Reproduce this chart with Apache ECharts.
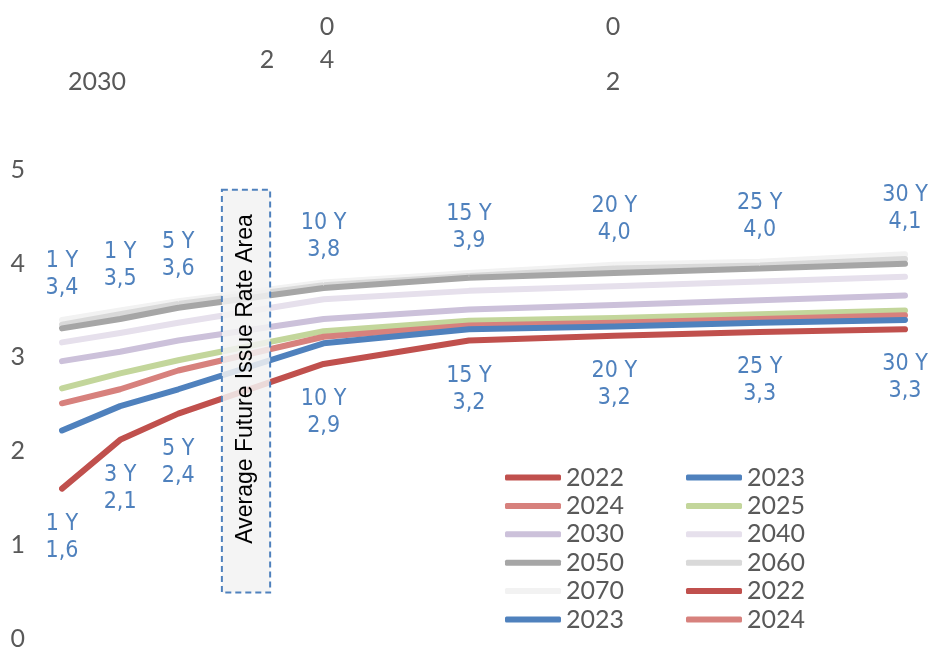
<!DOCTYPE html>
<html>
<head>
<meta charset="utf-8">
<script src="https://cdn.jsdelivr.net/npm/echarts@6/dist/echarts.min.js"></script>
<style>
  html, body { margin: 0; padding: 0; background: #ffffff; }
  #chart { width: 931px; height: 651px; }
</style>
</head>
<body>
<div id="chart"></div>
<script>
// Maturity points (years) along the curve
const maturities = [1, 3, 5, 10, 15, 20, 25, 30];
// Tags printed above the highest curve and below the lowest curve
const upperTags = ['1 Y', '1 Y', '5 Y', '10 Y', '15 Y', '20 Y', '25 Y', '30 Y'];
const lowerTags = ['1 Y', '3 Y', '5 Y', '10 Y', '15 Y', '20 Y', '25 Y', '30 Y'];
// Value axis ticks
const yTicks = [0, 1, 2, 3, 4, 5];

// Yield curves by year (%)
const y2022 = [1.6, 2.12, 2.4, 2.93, 3.18, 3.23, 3.27, 3.30];
const y2023 = [2.22, 2.48, 2.66, 3.15, 3.30, 3.33, 3.37, 3.40];
const y2024 = [2.51, 2.66, 2.86, 3.22, 3.34, 3.37, 3.41, 3.45];
const y2025 = [2.67, 2.83, 2.97, 3.28, 3.39, 3.42, 3.46, 3.50];
const y2030 = [2.96, 3.06, 3.18, 3.41, 3.51, 3.56, 3.61, 3.66];
const y2040 = [3.16, 3.26, 3.37, 3.62, 3.71, 3.76, 3.81, 3.86];
const y2050 = [3.31, 3.41, 3.53, 3.74, 3.85, 3.90, 3.95, 4.00];
const y2060 = [3.35, 3.46, 3.57, 3.77, 3.87, 3.95, 3.98, 4.05];
const y2070 = [3.4, 3.5, 3.6, 3.8, 3.9, 3.99, 4.02, 4.1];

// Stray header labels across the top
const headerTexts = ['2030', '2', '0', '4', '0', '2'];

// Annotation band: maturity range and value range
const bandText = 'Average Future Issue Rate Area';
const bandX = [6.5, 8.16];
const bandY = [0.49, 4.79];

const grayFont = 'Lato, "Liberation Sans", sans-serif';
const blueFont = '"DejaVu Sans Condensed", "DejaVu Sans", sans-serif';

const curves = [
  { name: '2070', data: y2070, color: '#f2f2f2' },
  { name: '2060', data: y2060, color: '#d9d9d9' },
  { name: '2050', data: y2050, color: '#a6a6a6' },
  { name: '2040', data: y2040, color: '#e6e0ec' },
  { name: '2030', data: y2030, color: '#ccc1da' },
  { name: '2025', data: y2025, color: '#c3d69b' },
  { name: '2024', data: y2024, color: '#d7817d' },
  { name: '2023', data: y2023, color: '#4f81bd' },
  { name: '2022', data: y2022, color: '#c0504d' }
];
// Repeated legend entries (no marks of their own)
const repeats = [
  { name: '2022 ', color: '#c0504d' },
  { name: '2023 ', color: '#4f81bd' },
  { name: '2024 ', color: '#d7817d' }
];

const fmt = v => v.toFixed(1).replace('.', ',');

const series = curves.map(c => {
  const s = {
    name: c.name,
    type: 'line',
    data: maturities.map((m, i) => [m, c.data[i]]),
    symbol: 'circle',
    symbolSize: 1,
    color: c.color,
    itemStyle: { color: c.color },
    lineStyle: { width: 6, color: c.color, cap: 'round', join: 'round' },
    emphasis: { disabled: true },
    animation: false,
    label: { show: false }
  };
  if (c.name === '2070') {
    s.label = {
      show: true, position: 'top', distance: 18,
      color: '#4f81bd', fontFamily: blueFont, fontSize: 23, lineHeight: 27,
      align: 'center',
      formatter: p => upperTags[p.dataIndex] + '\n' + fmt(p.value[1])
    };
  }
  if (c.name === '2022') {
    s.label = {
      show: true, position: 'bottom', distance: 21,
      color: '#4f81bd', fontFamily: blueFont, fontSize: 23, lineHeight: 27,
      align: 'center',
      formatter: p => lowerTags[p.dataIndex] + '\n' + fmt(p.value[1])
    };
  }
  return s;
});
repeats.forEach(r => {
  series.push({
    name: r.name, type: 'line', data: [], color: r.color,
    itemStyle: { color: r.color }, lineStyle: { width: 6, color: r.color }
  });
});

const legendCommon = {
  orient: 'vertical',
  padding: 0,
  itemWidth: 56,
  itemHeight: 6,
  itemGap: 3.4,
  icon: 'roundRect',
  selectedMode: false,
  formatter: n => n.trim(),
  textStyle: { color: '#595959', fontFamily: grayFont, fontSize: 25, lineHeight: 25 }
};

const chart = echarts.init(document.getElementById('chart'), null, { renderer: 'canvas' });
chart.setOption({
  backgroundColor: '#ffffff',
  animation: false,
  grid: { left: 62, right: 26, top: 170, bottom: 9, containLabel: false },
  xAxis: { type: 'value', min: 1, max: 30, show: false },
  yAxis: {
    type: 'value', min: yTicks[0], max: yTicks[yTicks.length - 1], interval: 1,
    axisLine: { show: false }, axisTick: { show: false }, splitLine: { show: false },
    axisLabel: { color: '#595959', fontFamily: grayFont, fontSize: 25, margin: 37 }
  },
  legend: [
    Object.assign({}, legendCommon, { left: 505, top: 465, data: ['2022', '2024', '2030', '2050', '2070', '2023 '] }),
    Object.assign({}, legendCommon, { left: 686, top: 465, data: ['2023', '2025', '2040', '2060', '2022 ', '2024 '] })
  ],
  series: series
});

// Header labels and the annotation band, placed once the axes exist
const headerPos = [[97, 82], [267, 60], [327, 27], [327, 60], [613, 27], [613, 82]];
const p0 = chart.convertToPixel({ gridIndex: 0 }, [bandX[0], bandY[1]]);
const p1 = chart.convertToPixel({ gridIndex: 0 }, [bandX[1], bandY[0]]);
const textAt = chart.convertToPixel({ gridIndex: 0 }, [(bandX[0] + bandX[1]) / 2, 2.77]);

const graphics = headerTexts.map((t, i) => ({
  type: 'text', x: headerPos[i][0], y: headerPos[i][1], z: 50,
  style: { text: t, fill: '#595959', font: '25px ' + grayFont, align: 'center', verticalAlign: 'middle' }
}));
graphics.push({
  type: 'rect', z: 100,
  shape: { x: p0[0], y: p0[1], width: p1[0] - p0[0], height: p1[1] - p0[1] },
  style: { fill: 'rgba(242,242,242,0.85)', stroke: '#4f81bd', lineWidth: 2, lineDash: [6, 4] }
});
graphics.push({
  type: 'text', z: 101, x: textAt[0], y: textAt[1], rotation: Math.PI / 2,
  style: { text: bandText, fill: '#000000', font: '23px "Liberation Sans", sans-serif', align: 'center', verticalAlign: 'middle' }
});
chart.setOption({ graphic: graphics });
</script>
</body>
</html>
